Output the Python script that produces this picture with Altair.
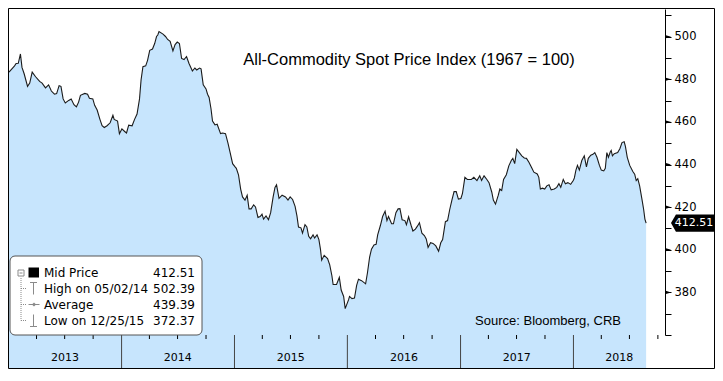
import altair as alt
import pandas as pd

# ---------------- data ----------------
dates = [
    "2013-01-02", "2013-01-20", "2013-01-25", "2013-02-01", "2013-02-08", "2013-02-13", "2013-02-20",
    "2013-03-03", "2013-03-10", "2013-03-18", "2013-03-29", "2013-04-11", "2013-04-19", "2013-04-30",
    "2013-05-10", "2013-05-19", "2013-05-29", "2013-06-05", "2013-06-13", "2013-06-19", "2013-06-26",
    "2013-07-03", "2013-07-14", "2013-07-22", "2013-07-31", "2013-08-08", "2013-08-15", "2013-08-21",
    "2013-09-04", "2013-09-13", "2013-09-19", "2013-09-30", "2013-10-06", "2013-10-14", "2013-10-23",
    "2013-10-30", "2013-11-06", "2013-11-15", "2013-11-25", "2013-12-04", "2013-12-08", "2013-12-19",
    "2013-12-25",
    "2014-01-02", "2014-01-11", "2014-01-17", "2014-01-24", "2014-02-04", "2014-02-12", "2014-02-20",
    "2014-02-28", "2014-03-05", "2014-03-11", "2014-03-20", "2014-03-26", "2014-04-02", "2014-04-11",
    "2014-04-18", "2014-04-24", "2014-04-28", "2014-05-02", "2014-05-15", "2014-05-23", "2014-05-30",
    "2014-06-07", "2014-06-16", "2014-06-23", "2014-06-30", "2014-07-07", "2014-07-14", "2014-07-22",
    "2014-07-30", "2014-08-07", "2014-08-18", "2014-08-26", "2014-09-01", "2014-09-10", "2014-09-15",
    "2014-09-22", "2014-10-01", "2014-10-06", "2014-10-11", "2014-10-17", "2014-10-22", "2014-10-30",
    "2014-11-06", "2014-11-17", "2014-11-24", "2014-12-03", "2014-12-11", "2014-12-18", "2014-12-26",
    "2015-01-03", "2015-01-07", "2015-01-14", "2015-01-21", "2015-01-27", "2015-02-04", "2015-02-11",
    "2015-02-17", "2015-02-24", "2015-03-04", "2015-03-10", "2015-03-18", "2015-03-25", "2015-03-31",
    "2015-04-05", "2015-04-13", "2015-04-21", "2015-04-28", "2015-05-06", "2015-05-12", "2015-05-17",
    "2015-05-25", "2015-06-04", "2015-06-15", "2015-06-23", "2015-06-30", "2015-07-08", "2015-07-16",
    "2015-07-22", "2015-07-27", "2015-08-04", "2015-08-09", "2015-08-17", "2015-08-23", "2015-08-29",
    "2015-09-04", "2015-09-12", "2015-09-17", "2015-09-25", "2015-10-01", "2015-10-06", "2015-10-10",
    "2015-10-18", "2015-10-29", "2015-11-05", "2015-11-12", "2015-11-16", "2015-11-27", "2015-12-06",
    "2015-12-12", "2015-12-20", "2015-12-25",
    "2016-01-05", "2016-01-08", "2016-01-16", "2016-01-24", "2016-01-31", "2016-02-06", "2016-02-16",
    "2016-02-29", "2016-03-06", "2016-03-13", "2016-03-19", "2016-03-27", "2016-04-03", "2016-04-08",
    "2016-04-17", "2016-04-24", "2016-05-02", "2016-05-08", "2016-05-13", "2016-05-23", "2016-05-29",
    "2016-06-06", "2016-06-13", "2016-06-19", "2016-06-26", "2016-07-05", "2016-07-10", "2016-07-17",
    "2016-07-25", "2016-07-31", "2016-08-08", "2016-08-15", "2016-08-21", "2016-08-29", "2016-09-06",
    "2016-09-12", "2016-09-18", "2016-09-26", "2016-10-04", "2016-10-13", "2016-10-22", "2016-10-29",
    "2016-11-04", "2016-11-13", "2016-11-20", "2016-11-27", "2016-12-04", "2016-12-11", "2016-12-18",
    "2016-12-25",
    "2017-01-02", "2017-01-07", "2017-01-15", "2017-01-23", "2017-02-05", "2017-02-13", "2017-02-23",
    "2017-03-04", "2017-03-10", "2017-03-18", "2017-03-27", "2017-04-03", "2017-04-12", "2017-04-17",
    "2017-04-24", "2017-05-03", "2017-05-08", "2017-05-14", "2017-05-20", "2017-05-29", "2017-06-06",
    "2017-06-14", "2017-06-19", "2017-06-25", "2017-07-02", "2017-07-10", "2017-07-18", "2017-07-26",
    "2017-08-02", "2017-08-10", "2017-08-19", "2017-08-26", "2017-09-06", "2017-09-11", "2017-09-16",
    "2017-09-23", "2017-09-30", "2017-10-07", "2017-10-14", "2017-10-21", "2017-10-31", "2017-11-08",
    "2017-11-15", "2017-11-21", "2017-11-29", "2017-12-06", "2017-12-14", "2017-12-23",
    "2018-01-01", "2018-01-04", "2018-01-09", "2018-01-14", "2018-01-20", "2018-01-28", "2018-02-05",
    "2018-02-12", "2018-02-18", "2018-02-26", "2018-03-05", "2018-03-11", "2018-03-18", "2018-03-26",
    "2018-04-01", "2018-04-09", "2018-04-14", "2018-04-19", "2018-04-24", "2018-04-30", "2018-05-03",
    "2018-05-07", "2018-05-13", "2018-05-24", "2018-05-31", "2018-06-07", "2018-06-14", "2018-06-18",
    "2018-06-24", "2018-07-02", "2018-07-12", "2018-07-18", "2018-07-23", "2018-07-28", "2018-08-03",
    "2018-08-10", "2018-08-16", "2018-08-20", "2018-08-24",
]
values = [
    483.4, 486.3, 487.4, 487.5, 491.9, 485.6, 482.6,
    476.7, 478.2, 483.4, 481.2, 479.0, 478.2, 476.0,
    477.4, 474.5, 473.0, 473.3, 477.0, 476.7, 470.8,
    468.9, 470.1, 470.8, 468.1, 467.1, 469.3, 472.5,
    473.4, 473.0, 471.1, 470.8, 467.8, 465.6, 461.2,
    458.2, 457.4, 458.2, 459.6, 463.1, 461.2, 460.4,
    454.5,
    456.7, 455.5, 454.8, 458.5, 458.2, 461.2, 463.7,
    470.8, 479.7, 485.9, 486.3, 488.9, 493.6, 494.2,
    496.8, 500.1, 500.8, 502.39, 501.2, 500.1, 498.7,
    497.8, 493.3, 496.3, 497.5, 496.8, 489.8, 489.3,
    490.7, 487.4, 483.9, 485.3, 484.4, 485.3, 484.9,
    477.4, 475.5, 473.0, 471.5, 466.3, 460.4, 458.6,
    458.9, 454.5, 454.8, 454.5, 450.0, 445.6, 440.4,
    438.9, 438.2, 435.2, 428.5, 424.8, 423.3, 425.6,
    419.2, 419.2, 421.1, 420.1, 415.2, 415.6, 416.7,
    414.4, 415.9, 414.1, 417.4, 424.8, 429.3, 430.5,
    424.1, 425.6, 424.8, 423.3, 424.8, 423.6, 420.4,
    415.9, 410.7, 410.3, 407.8, 411.8, 410.7, 406.3,
    405.2, 407.0, 405.5, 407.0, 404.8, 400.3, 395.1,
    397.4, 395.9, 392.9, 387.8, 383.7, 383.7, 387.0,
    381.1, 378.1, 372.37,
    376.6, 378.1, 377.1, 377.3, 383.3, 386.2, 385.5,
    384.0, 389.2, 396.6, 400.3, 402.3, 402.6, 407.0,
    411.5, 415.6, 418.1, 413.7, 415.6, 412.2, 412.2,
    417.4, 419.2, 419.3, 414.1, 413.7, 411.8, 415.5,
    411.5, 408.8, 409.7, 411.2, 412.7, 407.8, 406.7,
    405.1, 401.1, 403.3, 403.0, 401.8, 399.3, 403.3,
    404.8, 413.2, 413.7, 418.9, 423.3, 427.3, 427.3,
    423.8,
    424.1, 426.3, 434.0, 433.0, 433.0, 434.0, 432.5,
    434.7, 432.5, 434.7, 433.0, 431.5, 427.0, 423.3,
    421.4, 425.6, 428.5, 427.8, 433.0, 435.2, 439.4,
    441.9, 442.9, 440.4, 447.1, 445.6, 444.1, 443.1,
    442.9, 441.1, 438.5, 436.4, 435.6, 434.0, 428.5,
    428.9, 428.5, 430.0, 430.5, 428.1, 428.5, 429.3,
    431.0, 429.3, 433.0, 431.0, 431.5, 430.7,
    432.6, 433.7, 437.4, 439.6, 437.4, 441.9, 444.1,
    438.9, 442.9, 444.4, 444.8, 445.6, 443.4, 439.6,
    437.4, 437.0, 438.2, 445.6, 443.4, 445.9, 446.6,
    444.1, 445.1, 445.6, 447.4, 450.3, 450.7, 448.5,
    443.4, 439.6, 436.7, 435.5, 432.5, 433.4, 430.0,
    424.1, 418.9, 414.4, 412.51,
]

title_text = "All-Commodity Spot Price Index (1967 = 100)"
source_text = "Source: Bloomberg, CRB"
legend_labels = ["Mid Price", "High on 05/02/14", "Average", "Low on 12/25/15"]
legend_values = ["412.51", "502.39", "439.39", "372.37"]
last_value = 412.51

year_labels = ["2013", "2014", "2015", "2016", "2017", "2018"]
year_label_dates = ["2013-07-02", "2014-07-02", "2015-07-02", "2016-07-02", "2017-07-02", "2018-05-29"]
year_starts = ["2014-01-01", "2015-01-01", "2016-01-01", "2017-01-01", "2018-01-01"]
quarter_ticks = [
    "2013-04-01", "2013-07-01", "2013-10-01", "2014-04-01", "2014-07-01", "2014-10-01",
    "2015-04-01", "2015-07-01", "2015-10-01", "2016-04-01", "2016-07-01", "2016-10-01",
    "2017-04-01", "2017-07-01", "2017-10-01", "2018-04-01", "2018-07-01", "2018-10-01",
]
y_ticks = [360, 370, 380, 390, 400, 410, 420, 430, 440, 450, 460, 470, 480, 490, 500, 510]
y_major = [380, 400, 420, 440, 460, 480, 500]
y_domain = [360, 513]

# ---------------- layout / style ----------------
PW, PH, BAND, RIGHT = 656, 326, 34, 50
FILL = "#c7e5fd"
LINE = "#1b1b1b"
GRAY = "#8a8a8a"
SANS = "DejaVu Sans"
ARIAL = "Liberation Sans"

xs = alt.Scale(domain=[alt.DateTime(year=2013, month=1, date=2, utc=True),
                       alt.DateTime(year=2018, month=10, date=24, utc=True)])
ys = alt.Scale(domain=y_domain, nice=False, zero=False)
one = pd.DataFrame({"k": [0]})

y_axis = alt.Axis(orient="right", values=y_ticks, tickSize=6, tickColor="black",
                  domainColor="black", domainWidth=1, grid=False, zindex=1,
                  labelExpr="datum.value % 20 == 0 && datum.value >= 380 ? datum.label : ''",
                  labelFont=SANS, labelFontSize=11.5, labelColor="black",
                  labelPadding=3, labelOverlap=False)


def yenc(field="value:Q"):
    return alt.Y(field, scale=ys, title=None, axis=y_axis)


df = pd.DataFrame({"date": dates, "value": values})

area = alt.Chart(df).mark_area(color=FILL, opacity=1,
                               line={"color": LINE, "strokeWidth": 1.1}).encode(
    x=alt.X("date:T", scale=xs, title=None,
            axis=alt.Axis(ticks=False, labels=False, grid=False, domainColor="black",
                          domainWidth=1, zindex=1)),
    y=yenc(),
    y2=alt.value(PH),
)

year_rules = alt.Chart(pd.DataFrame({"date": year_starts})).mark_rule(
    color="#444", strokeWidth=1).encode(
    x=alt.X("date:T", scale=xs, axis=None), y=alt.value(PH), y2=alt.value(PH + BAND - 0.5))

q_rules = alt.Chart(pd.DataFrame({"date": quarter_ticks})).mark_rule(
    color="black", strokeWidth=1).encode(
    x=alt.X("date:T", scale=xs, axis=None), y=alt.value(PH), y2=alt.value(PH + 4))

year_text = alt.Chart(pd.DataFrame({"date": year_label_dates, "year": year_labels})).mark_text(
    font=SANS, fontSize=11, color="black", baseline="middle", align="center").encode(
    x=alt.X("date:T", scale=xs, axis=None), y=alt.value(PH + 23), text="year:N")

title = alt.Chart(pd.DataFrame({"t": [title_text]})).mark_text(
    font=ARIAL, fontSize=16.5, color="black", align="center", baseline="alphabetic").encode(
    x=alt.value(400), y=alt.value(56), text="t:N")

source = alt.Chart(pd.DataFrame({"t": [source_text]})).mark_text(
    font=ARIAL, fontSize=13, color="black", align="right", baseline="alphabetic").encode(
    x=alt.value(612), y=alt.value(PH - 10), text="t:N")

# legend box
box = alt.Chart(one).mark_rect(fill="white", stroke="#555", strokeWidth=1, cornerRadius=5).encode(
    x=alt.value(1), x2=alt.value(193), y=alt.value(PH - 79), y2=alt.value(PH))

row_y = [PH - 62, PH - 46.5, PH - 30.5, PH - 14.5]
legend_layers = []
for i in range(4):
    legend_layers.append(
        alt.Chart(pd.DataFrame({"t": [legend_labels[i]]})).mark_text(
            font=SANS, fontSize=12, color="black", align="left", baseline="middle").encode(
            x=alt.value(35), y=alt.value(row_y[i]), text="t:N"))
    legend_layers.append(
        alt.Chart(pd.DataFrame({"t": [legend_values[i]]})).mark_text(
            font=SANS, fontSize=12, color="black", align="right", baseline="middle").encode(
            x=alt.value(186), y=alt.value(row_y[i]), text="t:N"))


def seg(x1, y1, x2, y2, color=GRAY, dash=None, width=1):
    kw = {"color": color, "strokeWidth": width}
    if dash:
        kw["strokeDash"] = dash
    return alt.Chart(one).mark_rule(**kw).encode(
        x=alt.value(x1), y=alt.value(y1), x2=alt.value(x2), y2=alt.value(y2))


icons = [
    # tree
    seg(12, row_y[0] + 5, 12, row_y[3], dash=[1, 1]),
    seg(12, row_y[1], 17, row_y[1], dash=[1, 1]),
    seg(12, row_y[2], 17, row_y[2], dash=[1, 1]),
    seg(12, row_y[3], 17, row_y[3], dash=[1, 1]),
    alt.Chart(one).mark_rect(fill="white", stroke=GRAY, strokeWidth=1).encode(
        x=alt.value(9), x2=alt.value(15), y=alt.value(row_y[0] - 3), y2=alt.value(row_y[0] + 3)),
    seg(10.5, row_y[0], 13.5, row_y[0]),
    # mid price square
    alt.Chart(one).mark_rect(fill="black").encode(
        x=alt.value(19.5), x2=alt.value(30), y=alt.value(row_y[0] - 5.5), y2=alt.value(row_y[0] + 4.5)),
    # high
    seg(24.5, row_y[1] - 6, 24.5, row_y[1] + 6),
    seg(21, row_y[1] - 6, 28, row_y[1] - 6),
    # average
    seg(19.5, row_y[2], 30.5, row_y[2]),
    alt.Chart(one).mark_point(shape="diamond", size=18, filled=True, color=GRAY, opacity=1).encode(
        x=alt.value(25), y=alt.value(row_y[2])),
    # low
    seg(24.5, row_y[3] - 6, 24.5, row_y[3] + 6),
    seg(21, row_y[3] + 6, 28, row_y[3] + 6),
]

# y-axis major tick arrows
arrows = alt.Chart(pd.DataFrame({"value": y_major})).mark_point(
    shape="M-1,-0.6L1,0L-1,0.6Z", size=36, filled=True, color="black", opacity=1).encode(
    x=alt.value(PW + 3), y=yenc())

# last value tag
tag_df = pd.DataFrame({"value": [last_value], "label": [f"{last_value:.2f}"]})
tag = alt.Chart(tag_df).mark_point(
    shape="M-1,0L-0.77,-0.4L1,-0.4L1,0.4L-0.77,0.4Z", size=1849, filled=True,
    color="black", opacity=1).encode(
    x=alt.value(PW + 27.5), y=yenc())
tag_text = alt.Chart(tag_df).mark_text(
    font=SANS, fontSize=11, color="white", align="center", baseline="middle").encode(
    x=alt.value(PW + 29), y=yenc(), text="label:N")

border = alt.Chart(one).mark_rect(fillOpacity=0, stroke="black", strokeWidth=1).encode(
    x=alt.value(-0.5), x2=alt.value(PW + RIGHT - 0.5), y=alt.value(-0.5), y2=alt.value(PH + BAND - 0.5))

chart = alt.layer(
    area, year_rules, q_rules, year_text, title, source, box, *legend_layers, *icons,
    arrows, tag, tag_text, border
).properties(
    width=PW, height=PH,
    padding={"left": 1, "top": 1, "right": RIGHT, "bottom": BAND},
    autosize=alt.AutoSizeParams(type="none"),
    background="white",
).configure_view(strokeWidth=0)

chart.save("out.html", embed_options={"renderer": "svg", "actions": False})
